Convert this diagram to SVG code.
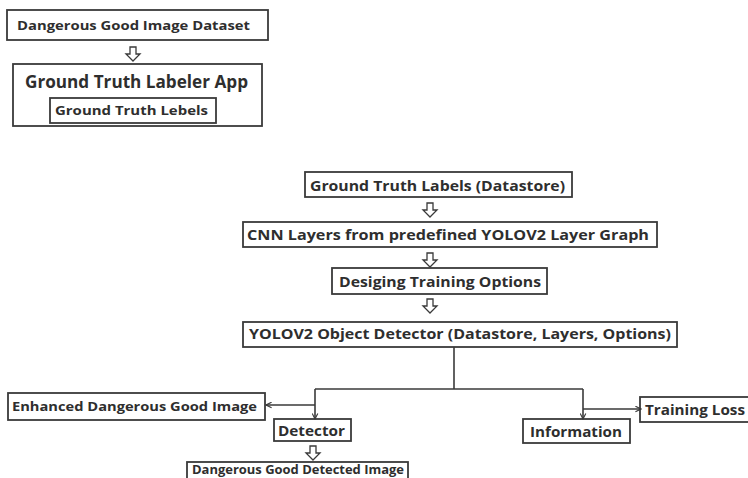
<svg xmlns="http://www.w3.org/2000/svg" width="748" height="478" viewBox="0 0 748 478">
<style>
.box{fill:#fff;stroke:#3a3a3a;stroke-width:1.8}
.t{font-family:"Open Sans","Noto Sans",sans-serif;font-weight:700;fill:#2e2e2e}
.ln{fill:none;stroke:#3a3a3a;stroke-width:1.6}
.ha{fill:#fff;stroke:#3a3a3a;stroke-width:1.3;stroke-linejoin:miter}
</style>
<defs>
<marker id="ah" viewBox="0 0 10 10" refX="9" refY="5" markerWidth="7" markerHeight="7" markerUnits="userSpaceOnUse" orient="auto">
<path d="M1,1 L9,5 L1,9" fill="none" stroke="#3a3a3a" stroke-width="1.6"/>
</marker>
<path id="hollow" d="M-3,0 L3,0 L3,7 L7,7 L0,14 L-7,7 L-3,7 Z"/>
</defs>
<rect width="748" height="478" fill="#fff"/>

<g id="n1">
<rect class="box" x="7" y="10" width="261" height="30"/>
<text class="t" x="17" y="30" font-size="13" textLength="233" lengthAdjust="spacingAndGlyphs">Dangerous Good Image Dataset</text>
</g>
<g id="n2">
<rect class="box" x="13" y="64" width="249" height="62"/>
<text class="t" x="25" y="88" font-size="17" textLength="223" lengthAdjust="spacingAndGlyphs">Ground Truth Labeler App</text>
</g>
<g id="n3">
<rect class="box" x="50" y="98" width="166" height="25"/>
<text class="t" x="55" y="115" font-size="13" textLength="153" lengthAdjust="spacingAndGlyphs">Ground Truth Lebels</text>
</g>
<g id="n4">
<rect class="box" x="305" y="172" width="267" height="25"/>
<text class="t" x="310" y="191" font-size="13.5" textLength="255" lengthAdjust="spacingAndGlyphs">Ground Truth Labels (Datastore)</text>
</g>
<g id="n5">
<rect class="box" x="243" y="222" width="414" height="25"/>
<text class="t" x="247" y="240" font-size="13.5" textLength="402" lengthAdjust="spacingAndGlyphs">CNN Layers from predefined YOLOV2 Layer Graph</text>
</g>
<g id="n6">
<rect class="box" x="332" y="268" width="215" height="26"/>
<text class="t" x="339" y="287" font-size="13.5" textLength="202" lengthAdjust="spacingAndGlyphs">Desiging Training Options</text>
</g>
<g id="n7">
<rect class="box" x="243" y="322" width="434" height="25"/>
<text class="t" x="249" y="339" font-size="13.5" textLength="422" lengthAdjust="spacingAndGlyphs">YOLOV2 Object Detector (Datastore, Layers, Options)</text>
</g>
<g id="n8">
<rect class="box" x="8" y="393" width="257" height="27"/>
<text class="t" x="12" y="411" font-size="13" textLength="245" lengthAdjust="spacingAndGlyphs">Enhanced Dangerous Good Image</text>
</g>
<g id="n9">
<rect class="box" x="274" y="419" width="77" height="22"/>
<text class="t" x="278" y="436" font-size="15" textLength="67" lengthAdjust="spacingAndGlyphs">Detector</text>
</g>
<g id="n10">
<rect class="box" x="523" y="419" width="107" height="24"/>
<text class="t" x="530" y="437" font-size="14.5" textLength="92" lengthAdjust="spacingAndGlyphs">Information</text>
</g>
<g id="n11">
<rect class="box" x="640" y="397" width="120" height="25"/>
<text class="t" x="645" y="415" font-size="15" textLength="100" lengthAdjust="spacingAndGlyphs">Training Loss</text>
</g>
<g id="n12">
<rect class="box" x="187" y="462" width="221" height="24"/>
<text class="t" x="192" y="474" font-size="13" textLength="212" lengthAdjust="spacingAndGlyphs">Dangerous Good Detected Image</text>
</g>

<g id="connectors">
<use href="#hollow" class="ha" x="133" y="47"/>
<use href="#hollow" class="ha" x="430" y="203"/>
<use href="#hollow" class="ha" x="430" y="253"/>
<use href="#hollow" class="ha" x="430" y="299"/>
<use href="#hollow" class="ha" x="313" y="446"/>
<path class="ln" d="M454,347 L454,389"/>
<path class="ln" d="M315,389 L583,389"/>
<path class="ln" d="M315,389 L315,419" marker-end="url(#ah)"/>
<path class="ln" d="M583,389 L583,419" marker-end="url(#ah)"/>
<path class="ln" d="M315,405 L266,405" marker-end="url(#ah)"/>
<path class="ln" d="M583,409 L641,409" marker-end="url(#ah)"/>
</g>
</svg>
